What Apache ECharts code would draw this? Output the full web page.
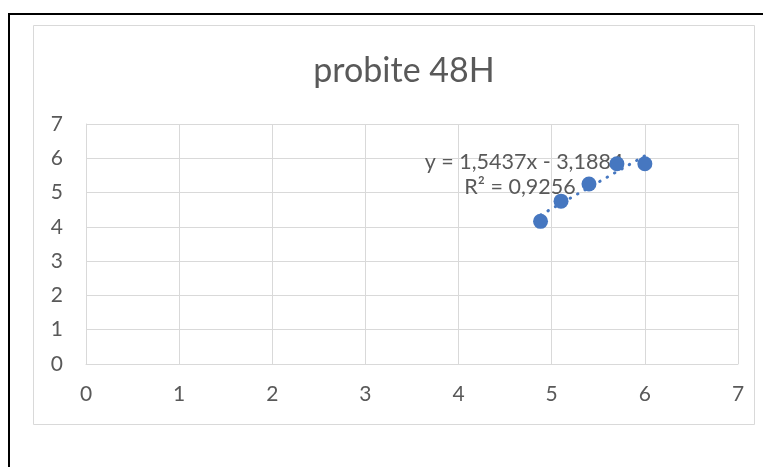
<!DOCTYPE html>
<html>
<head>
<meta charset="utf-8">
<style>
  html, body { margin: 0; padding: 0; background: #ffffff; }
  #chart { width: 763px; height: 467px; }
</style>
<script src="https://cdn.jsdelivr.net/npm/echarts@6/dist/echarts.min.js"></script>
</head>
<body>
<div id="chart"></div>
<script>
// log dose values and probit responses
const logDose = [4.88, 5.10, 5.40, 5.70, 6.00];
const probit = [4.16, 4.75, 5.25, 5.84, 5.84];
// linear trend line coefficients and fit quality
const slope = 1.5437;
const intercept = -3.1884;
const rSquared = 0.9256;
const axisTicks = [0, 1, 2, 3, 4, 5, 6, 7];

const points = logDose.map((x, i) => [x, probit[i]]);
const xLo = Math.min(...logDose);
const xHi = Math.max(...logDose);
const trend = [[xLo, slope * xLo + intercept], [xHi, slope * xHi + intercept]];

const fmt = (v) => v.toFixed(4).replace('.', ',');
const eqText = 'y = ' + fmt(slope) + 'x ' + (intercept < 0 ? '- ' : '+ ') + fmt(Math.abs(intercept));
const r2Text = 'R² = ' + fmt(rSquared);

const font = 'Lato, "Open Sans", sans-serif';
const textColor = '#595959';
const blue = '#4677c0';

const chart = echarts.init(document.getElementById('chart'), null, { renderer: 'canvas' });
chart.setOption({
  animation: false,
  backgroundColor: '#ffffff',
  textStyle: { fontFamily: font },
  graphic: [
    { type: 'rect', shape: { x: 9, y: 14, width: 800, height: 500 },
      style: { fill: 'none', stroke: '#000000', lineWidth: 2 }, z: 100 },
    { type: 'rect', shape: { x: 33.5, y: 25.5, width: 721, height: 399 },
      style: { fill: 'none', stroke: '#d9d9d9', lineWidth: 1 }, z: 100 },
    { type: 'text', x: 404, y: 71, z: 1,
      style: { text: 'probite 48H', fill: textColor, font: '34px ' + font,
               textAlign: 'center', textVerticalAlign: 'middle' } },
    { type: 'text', x: 524, y: 162, z: 1,
      style: { text: eqText, fill: textColor, font: '21.5px ' + font,
               textAlign: 'center', textVerticalAlign: 'middle' } },
    { type: 'text', x: 520, y: 187, z: 1,
      style: { text: r2Text, fill: textColor, font: '21.5px ' + font,
               textAlign: 'center', textVerticalAlign: 'middle' } }
  ],
  grid: { left: 86, right: 25, top: 124, bottom: 103, containLabel: false },
  xAxis: {
    type: 'value', min: axisTicks[0], max: axisTicks[axisTicks.length - 1], interval: 1,
    axisLine: { show: true, lineStyle: { color: '#d9d9d9' } },
    axisTick: { show: false },
    splitLine: { show: true, lineStyle: { color: '#d9d9d9', width: 1 } },
    axisLabel: { color: textColor, fontSize: 21, margin: 20, fontFamily: font }
  },
  yAxis: {
    type: 'value', min: axisTicks[0], max: axisTicks[axisTicks.length - 1], interval: 1,
    axisLine: { show: true, lineStyle: { color: '#d9d9d9' } },
    axisTick: { show: false },
    splitLine: { show: true, lineStyle: { color: '#d9d9d9', width: 1 } },
    axisLabel: { color: textColor, fontSize: 21, margin: 23, fontFamily: font }
  },
  series: [
    {
      type: 'line',
      data: trend,
      symbol: 'none',
      lineStyle: { color: blue, width: 3, type: [0.5, 8], cap: 'round' },
      z: 5
    },
    {
      type: 'scatter',
      data: points,
      symbol: 'circle',
      symbolSize: 15,
      itemStyle: { color: blue, opacity: 1 },
      z: 6
    }
  ]
});
</script>
</body>
</html>
